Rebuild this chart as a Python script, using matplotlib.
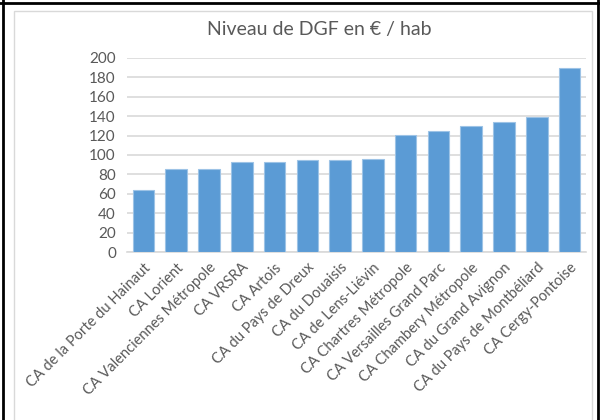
import matplotlib.pyplot as plt
from matplotlib.lines import Line2D
from matplotlib.patches import Rectangle

# DGF per inhabitant for each agglomeration
communes = ['CA de la Porte du Hainaut', 'CA Lorient', 'CA Valenciennes Métropole',
            'CA VRSRA', 'CA Artois', 'CA du Pays de Dreux', 'CA du Douaisis',
            'CA de Lens-Liévin', 'CA Chartres Métropole', 'CA Versailles Grand Parc',
            'CA Chambery Métropole', 'CA du Grand Avignon', 'CA du Pays de Montbéliard',
            'CA Cergy-Pontoise']
dgf = [64, 86, 86, 93, 93, 95, 95, 96, 121, 125, 130, 134, 139, 189]
yticks = list(range(0, 201, 20))

plt.rcParams['font.family'] = ['Lato', 'DejaVu Sans']
txt = '#595959'

fig = plt.figure(figsize=(6, 4.2), dpi=100)
ax = fig.add_axes([127/600, 1 - 252.3/420, (586 - 127)/600, (252.3 - 57.7)/420])

ax.bar(range(len(dgf)), dgf, width=0.66, color='#5B9BD5', edgecolor='#9DC3E6',
       linewidth=0.8, zorder=3)
ax.set_xlim(-0.5, len(dgf) - 0.5)
ax.set_ylim(0, 200)
ax.set_yticks(yticks)
ax.set_yticklabels([str(v) for v in yticks], fontsize=11, color=txt)
ax.set_xticks(range(len(communes)))
ax.set_xticklabels(communes, rotation=45, ha='right', rotation_mode='anchor',
                   fontsize=10.5, color=txt)
ax.tick_params(length=0, pad=8)
ax.tick_params(axis='x', pad=6)
ax.grid(axis='y', color='#D9D9D9', linewidth=1.2, zorder=0)
for s in ['top', 'right', 'left']:
    ax.spines[s].set_visible(False)
ax.spines['bottom'].set_color('#D9D9D9')
ax.spines['bottom'].set_linewidth(1.2)

fig.text(319/600, 1 - 30/420, 'Niveau de DGF en € / hab', ha='center', va='center',
         fontsize=14, color=txt)

# chart frame and outer black border
fig.add_artist(Rectangle((14/600, -0.1), (592 - 14)/600, 1.1 - 11/420,
                         transform=fig.transFigure, fill=False, edgecolor='#D9D9D9', lw=1))
fig.add_artist(Line2D([2.5/600, 2.5/600], [0, 1], color='black', lw=2, transform=fig.transFigure))
fig.add_artist(Line2D([597.5/600, 597.5/600], [0, 1], color='black', lw=2, transform=fig.transFigure))
fig.add_artist(Line2D([0, 1], [1 - 2.5/420, 1 - 2.5/420], color='black', lw=2, transform=fig.transFigure))

fig.savefig('out.png', dpi=100)
